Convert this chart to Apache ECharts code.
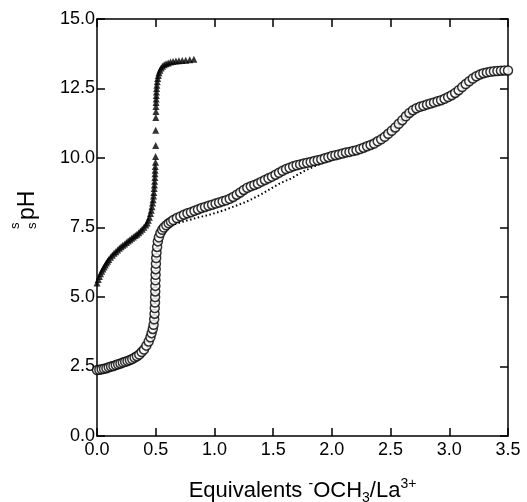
<!DOCTYPE html>
<html>
<head>
<meta charset="utf-8">
<script src="https://cdn.jsdelivr.net/npm/echarts@6/dist/echarts.min.js"></script>
<style>
html,body{margin:0;padding:0;background:#fff;}
#chart{width:527px;height:502px;}
</style>
</head>
<body>
<div id="chart"></div>
<script>
// x tick labels and y tick labels
var xTicks = ['0.0','0.5','1.0','1.5','2.0','2.5','3.0','3.5'];
var yTicks = ['0.0','2.5','5.0','7.5','10.0','12.5','15.0'];

// Series 1: filled triangles [equivalents, spH]
var triangles = [
[0.000,5.50],[0.010,5.63],[0.020,5.74],[0.030,5.84],[0.040,5.93],[0.050,6.01],[0.060,6.08],
[0.070,6.15],[0.080,6.22],[0.090,6.29],[0.100,6.35],[0.115,6.43],[0.130,6.50],[0.145,6.57],
[0.160,6.63],[0.175,6.69],[0.190,6.75],[0.205,6.81],[0.220,6.86],[0.235,6.91],[0.250,6.96],
[0.265,7.01],[0.280,7.06],[0.295,7.11],[0.310,7.16],[0.325,7.21],[0.340,7.26],[0.355,7.31],
[0.370,7.37],[0.385,7.44],[0.400,7.51],[0.415,7.59],[0.427,7.66],[0.437,7.76],[0.446,7.87],
[0.455,8.00],[0.462,8.12],[0.468,8.25],[0.473,8.38],[0.478,8.50],[0.481,8.63],[0.484,8.76],
[0.487,8.90],[0.489,9.03],[0.491,9.16],[0.493,9.30],[0.494,9.43],[0.495,9.56],[0.496,9.69],
[0.498,9.85],[0.499,10.05],[0.500,10.45],[0.500,11.00],[0.501,11.46],[0.502,11.67],[0.502,11.85],
[0.503,12.00],[0.504,12.12],[0.505,12.25],[0.506,12.37],[0.508,12.50],[0.510,12.62],[0.513,12.74],
[0.517,12.86],[0.522,12.97],[0.528,13.07],[0.536,13.16],[0.546,13.24],[0.558,13.30],[0.572,13.35],
[0.588,13.39],[0.606,13.42],[0.626,13.45],[0.648,13.47],[0.672,13.49],[0.698,13.50],[0.726,13.51],
[0.756,13.52],[0.790,13.53],[0.825,13.55]
];

// Series 2: open circles [equivalents, spH]
var circles = [
[0.00,2.37],[0.02,2.38],[0.04,2.40],[0.06,2.42],[0.08,2.44],[0.10,2.47],[0.12,2.50],[0.14,2.52],
[0.16,2.55],[0.18,2.58],[0.20,2.61],[0.22,2.64],[0.24,2.67],[0.26,2.70],[0.28,2.73],[0.30,2.77],
[0.32,2.82],[0.34,2.87],[0.36,2.93],[0.38,3.02],[0.40,3.11],[0.42,3.25],[0.44,3.40],[0.455,3.55],
[0.465,3.70],[0.475,3.85],[0.482,4.00],[0.487,4.20],[0.490,4.40],[0.492,4.60],[0.494,4.80],
[0.495,5.00],[0.496,5.20],[0.497,5.40],[0.498,5.60],[0.499,5.80],[0.500,6.00],[0.502,6.20],
[0.504,6.40],[0.507,6.60],[0.512,6.80],[0.518,7.00],[0.527,7.15],[0.540,7.30],[0.555,7.42],
[0.570,7.50],[0.590,7.58],[0.610,7.65],[0.630,7.71],[0.650,7.77],[0.680,7.84],[0.710,7.90],
[0.740,7.96],[0.770,8.01],[0.800,8.05],[0.830,8.10],[0.860,8.15],[0.890,8.20],[0.920,8.24],
[0.950,8.28],[0.980,8.32],[1.010,8.36],[1.040,8.40],[1.070,8.44],[1.100,8.48],[1.130,8.53],
[1.160,8.60],[1.190,8.68],[1.220,8.76],[1.250,8.85],[1.280,8.93],[1.310,8.98],[1.340,9.03],
[1.370,9.08],[1.400,9.15],[1.430,9.21],[1.460,9.27],[1.490,9.33],[1.520,9.40],[1.550,9.47],
[1.580,9.54],[1.610,9.60],[1.640,9.65],[1.670,9.70],[1.700,9.74],[1.730,9.77],[1.760,9.80],
[1.790,9.83],[1.820,9.86],[1.850,9.89],[1.880,9.92],[1.910,9.95],[1.940,9.99],[1.970,10.03],
[2.000,10.07],[2.030,10.10],[2.060,10.13],[2.090,10.16],[2.120,10.20],[2.150,10.22],[2.180,10.25],
[2.210,10.28],[2.240,10.32],[2.270,10.37],[2.300,10.42],[2.330,10.47],[2.360,10.52],[2.390,10.60],
[2.420,10.67],[2.450,10.76],[2.480,10.87],[2.510,10.98],[2.540,11.10],[2.570,11.23],[2.600,11.36],
[2.630,11.50],[2.660,11.62],[2.690,11.72],[2.720,11.79],[2.750,11.84],[2.780,11.88],[2.810,11.92],
[2.840,11.96],[2.870,12.00],[2.900,12.04],[2.930,12.08],[2.960,12.13],[2.990,12.19],[3.020,12.26],
[3.050,12.34],[3.080,12.44],[3.110,12.55],[3.140,12.66],[3.170,12.76],[3.200,12.86],[3.230,12.94],
[3.260,13.00],[3.290,13.05],[3.320,13.08],[3.350,13.10],[3.380,13.12],[3.410,13.13],[3.440,13.14],
[3.470,13.15],[3.500,13.15]
];

// Series 3: small dots [equivalents, spH]
var dots = [
[0.00,2.37],[0.10,2.47],[0.20,2.61],[0.30,2.77],[0.40,3.11],[0.45,3.50],[0.48,3.95],[0.49,4.40],
[0.495,5.00],[0.498,5.60],[0.50,6.00],[0.505,6.50],[0.515,6.90],[0.53,7.15],[0.55,7.33],[0.575,7.45],
[0.60,7.53],[0.65,7.61],[0.70,7.67],[0.75,7.73],[0.80,7.79],[0.85,7.85],[0.90,7.90],[0.95,7.95],
[1.00,8.01],[1.05,8.08],[1.10,8.15],[1.15,8.23],[1.20,8.31],[1.25,8.39],[1.30,8.48],[1.35,8.59],
[1.40,8.70],[1.45,8.82],[1.50,8.95],[1.55,9.07],[1.60,9.17],[1.65,9.26],[1.70,9.38],[1.75,9.50],
[1.80,9.60],[1.85,9.70],[1.90,9.79],[1.95,9.88],[2.00,9.97],[2.05,10.06],[2.10,10.14],[2.15,10.21],
[2.20,10.27],[2.25,10.33],[2.30,10.41],[2.35,10.50],[2.40,10.62],[2.45,10.76],[2.50,10.94],
[2.55,11.14],[2.60,11.36],[2.65,11.58],[2.70,11.74],[2.75,11.84],[2.80,11.91],[2.85,11.97],
[2.90,12.04],[2.95,12.11],[3.00,12.21],[3.05,12.34],[3.10,12.51],[3.15,12.70],[3.20,12.86],
[3.25,12.98],[3.30,13.06],[3.35,13.10],[3.40,13.13],[3.45,13.14],[3.50,13.15]
];

var chart = echarts.init(document.getElementById('chart'), null, {renderer:'canvas'});
var FONT = '"Liberation Sans", Arial, sans-serif';
var axisLine = {show:true, onZero:false, lineStyle:{color:'#000', width:1.5}};
var tick = {show:true, inside:true, length:8, lineStyle:{color:'#000', width:1.5}};

var option = {
  backgroundColor:'#fff',
  animation:false,
  grid:{left:97, right:19, top:19, bottom:66, containLabel:false, outerBoundsMode:'none'},
  xAxis:[{
    type:'value', min:0, max:3.5, interval:0.5, position:'bottom',
    axisLine:axisLine, axisTick:tick, splitLine:{show:false},
    axisLabel:{color:'#000', fontSize:18, fontFamily:FONT, margin:5,
      formatter:function(v){ return xTicks[Math.round(v/0.5)]; }},
    name:'Equivalents {sup|-}OCH{sub|3}/La{sup|3+}',
    nameLocation:'middle', nameGap:41,
    nameTextStyle:{color:'#000', fontSize:22, fontFamily:FONT, lineHeight:28,
      rich:{
        sup:{fontSize:14, fontFamily:FONT, color:'#000', verticalAlign:'top', lineHeight:28},
        sub:{fontSize:14, fontFamily:FONT, color:'#000', verticalAlign:'bottom', lineHeight:28}
      }}
  },{
    type:'value', min:0, max:3.5, interval:0.5, position:'top',
    axisLine:axisLine, axisTick:tick, axisLabel:{show:false}, splitLine:{show:false}
  }],
  yAxis:[{
    type:'value', min:0, max:15, interval:2.5, position:'left',
    axisLine:axisLine, axisTick:tick, splitLine:{show:false},
    axisLabel:{color:'#000', fontSize:18, fontFamily:FONT, margin:2,
      formatter:function(v){ return yTicks[Math.round(v/2.5)]; }}
  },{
    type:'value', min:0, max:15, interval:2.5, position:'right',
    axisLine:axisLine, axisTick:tick, axisLabel:{show:false}, splitLine:{show:false}
  }],
  graphic:[{
    type:'group', x:28, y:229, rotation:Math.PI/2,
    children:[
      {type:'text', x:9, y:0, style:{text:'pH', fill:'#000', font:'23px '+FONT, textVerticalAlign:'middle', textAlign:'left'}},
      {type:'text', x:0, y:-13, style:{text:'s', fill:'#000', font:'13px '+FONT, textVerticalAlign:'middle', textAlign:'left'}},
      {type:'text', x:0, y:4, style:{text:'s', fill:'#000', font:'13px '+FONT, textVerticalAlign:'middle', textAlign:'left'}}
    ]
  }],
  series:[{
    type:'line', data:dots, showSymbol:false, symbol:'none', z:2,
    lineStyle:{color:'#000', width:2, type:[1.5,2.5]}
  },{
    type:'scatter', data:triangles, symbol:'triangle', symbolSize:7, z:3,
    itemStyle:{color:'#000'}
  },{
    type:'scatter', data:circles, symbol:'circle', symbolSize:9, z:4,
    itemStyle:{color:'#fff', borderColor:'#000', borderWidth:1.5}
  }]
};
chart.setOption(option);
</script>
</body>
</html>
